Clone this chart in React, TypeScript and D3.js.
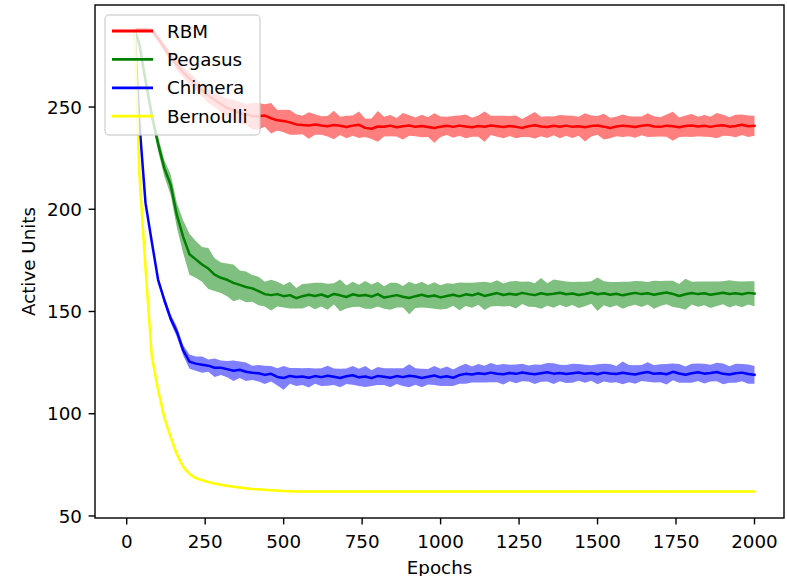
import React from "react";
import * as d3 from "d3";

const EPOCHS: number[] = [25, ...d3.range(40, 2001, 20)];

const SERIES_NAMES = ["RBM", "Pegasus", "Chimera", "Bernoulli"];
const SERIES_COLORS = ["#ff0000", "#008000", "#0000ff", "#ffff00"];

const X_TICKS = [0, 250, 500, 750, 1000, 1250, 1500, 1750, 2000];
const Y_TICKS = [50, 100, 150, 200, 250];

const RBM_MEAN = [
  288, 288, 288, 287.5, 283.5, 279, 274.5, 270.5, 267, 264,
  261, 258, 255.5, 253.5, 251.5, 249.5, 248.5, 247, 246.5, 245.5,
  245.5, 245.8, 244.5, 243.5, 243.2, 242.5, 241.5, 241.2, 241, 241.5,
  241, 240.6, 241.2, 240.8, 240.2, 240.9, 241.3, 239.8, 239.4, 240.5,
  240.4, 240.9, 240.1, 240.6, 241, 240.3, 240.7, 240.2, 239.7, 240.4,
  240.8, 240.3, 240.9, 240.5, 240.1, 240.7, 240.4, 241, 240.6, 240.2,
  240.7, 240.3, 239.8, 240.6, 241.1, 240.5, 240.2, 240.8, 240.4, 240.9,
  240.3, 240.6, 240.1, 240.7, 241, 240.4, 239.7, 240.5, 240.9, 240.6,
  240.2, 240.8, 241.2, 240.5, 240.3, 240.9, 240.6, 240.1, 240.7, 241,
  240.5, 240.8, 240.3, 240.9, 241.1, 240.4, 240.7, 241.3, 240.6, 240.8,
];
const RBM_SPREAD = [
  0, 0.5, 0.8, 1, 1.5, 2, 2, 2.5, 2.5, 3,
  3, 3, 3.5, 3.5, 4, 4.5, 5, 5.5, 5, 6.5,
  6.5, 5.5, 7.5, 5, 5.5, 6, 5, 4.5, 6.5, 5,
  4.5, 5, 7, 4.5, 5.5, 5, 6.5, 4.5, 5, 7.5,
  4.8, 5.2, 4.5, 6.5, 5, 4.6, 5.5, 4.8, 7.2, 5,
  4.5, 5.3, 4.9, 5.8, 4.6, 5.2, 7.4, 4.7, 5.1, 5.5,
  4.9, 5.6, 4.4, 5.2, 6.5, 4.8, 5.3, 4.6, 5.7, 5,
  5.4, 4.7, 6.9, 5.1, 4.6, 6.3, 5, 4.8, 5.5, 4.9,
  5.2, 4.6, 5.8, 5, 4.7, 5.4, 7.1, 4.8, 5.2, 5.6,
  4.8, 5.3, 4.9, 6.2, 5.1, 4.6, 5.5, 5, 5.3, 4.9,
];

const PEGASUS_MEAN = [
  288, 281, 263, 246, 232, 220, 212, 197, 186.5, 178,
  175.5, 173, 171, 168, 166.5, 165.5, 164, 163, 162, 161.3,
  160, 158.5, 158, 158.5, 157.5, 158, 156.5, 157.5, 158.2, 157.6,
  158.3, 157.2, 158.6, 157.9, 157.1, 158.4, 157.7, 158.1, 157.3, 158.5,
  156.8, 157.4, 158, 157.2, 156.6, 157.5, 158.2, 157.3, 157.8, 156.9,
  157.6, 158.2, 157.4, 158.4, 157.9, 158.8, 157.6, 158.3, 159, 158.1,
  158.7, 158.2, 159.1, 158.5, 158, 158.9, 158.3, 158.7, 159.2, 158.4,
  158.8, 158.1, 158.6, 159.3, 158.4, 158.9, 158.2, 158.7, 157.9, 158.6,
  159.1, 158.5, 158.9, 158.2, 158.8, 159.3, 158.6, 157.6, 158.4, 159,
  158.5, 158.9, 158.2, 158.7, 159.2, 158.6, 158.9, 158.4, 159.1, 158.7,
];
const PEGASUS_SPREAD = [
  0, 1.5, 2.5, 3, 3.5, 4, 5, 6, 8, 10,
  9, 8.5, 10, 8, 7.5, 8, 9, 7, 7.5, 6.5,
  7, 6, 7.5, 6, 5.5, 6.5, 5, 6, 5.5, 6.5,
  5.8, 6.4, 5.2, 7.8, 5.6, 6.2, 5.4, 6.8, 5.9, 6.1,
  5.5, 6.6, 6, 5.3, 7.9, 5.8, 6.3, 5.6, 6.5, 5.9,
  6.2, 5.4, 6.8, 5.7, 6.1, 5.5, 6.9, 5.8, 6.3, 5.6,
  6, 6.7, 5.4, 6.2, 5.8, 7.5, 5.5, 6.9, 5.9, 6.3,
  5.6, 6.4, 6, 5.5, 8.2, 5.9, 6.2, 5.7, 6.6, 6,
  5.8, 6.3, 5.5, 6.8, 6.1, 5.7, 6.4, 5.9, 7.6, 5.6,
  6.2, 5.8, 6.5, 6, 5.6, 6.7, 5.9, 6.3, 5.7, 6.1,
];

const CHIMERA_MEAN = [
  288, 243, 203, 184, 165.5, 155.5, 146.5, 140, 131, 125.5,
  124.5, 124, 123.5, 122.5, 122.5, 121.8, 121, 121.5, 120.5, 120,
  119.8, 119, 119.5, 118, 117.5, 118.5, 118, 118.2, 117.6, 118.4,
  117.9, 118.6, 118.1, 117.5, 118.3, 118.8, 117.8, 118.2, 117.4, 118.5,
  118.1, 117.6, 118.4, 117.9, 118.6, 118.2, 117.5, 118.1, 118.7, 117.8,
  118.3, 117.6, 118.9, 119.5, 119.2, 119.8, 119.4, 120.1, 119.6, 119.3,
  119.9, 119.5, 120.2, 119.7, 119.3, 119.8, 120.3, 119.6, 119.9, 119.4,
  119.8, 120.2, 119.5, 119.9, 119.3, 120.1, 119.7, 119.4, 120, 119.6,
  119.2, 119.9, 120.4, 119.5, 119.8, 119.3, 120.5, 119.7, 119.1, 119.8,
  120.3, 119.6, 119.9, 120.4, 119.5, 119.2, 119.8, 120.1, 119.4, 119,
];
const CHIMERA_SPREAD = [
  0, 0.5, 1, 1, 1.5, 2, 2, 2.5, 2.5, 3.5,
  3.5, 4, 3, 4.5, 3.5, 4, 5, 4, 4.5, 3.5,
  4, 4.5, 3.8, 4.2, 5.8, 3.9, 4.4, 4.1, 4.8, 3.7,
  4.3, 4.9, 4, 4.5, 3.8, 4.6, 4.2, 5.1, 3.9, 4.4,
  4.1, 4.7, 3.9, 4.4, 5.6, 4, 4.5, 3.8, 4.6, 4.2,
  4.8, 4, 4.3, 4.9, 3.9, 4.5, 4.1, 4.7, 4.2, 5,
  4, 4.6, 4.3, 3.9, 4.8, 4.2, 4.5, 5.1, 4, 4.4,
  4.7, 4.1, 4.4, 3.8, 4.9, 4.3, 4.6, 4, 5.6, 4.2,
  4.5, 3.9, 4.8, 4.2, 4.4, 5, 4.1, 4.6, 4, 4.7,
  4.3, 4.8, 4.1, 4.5, 5.1, 4, 4.6, 4.2, 4.7, 4.4,
];

const BERNOULLI_MEAN = [
  288, 218, 171, 128, 111.6, 98, 88.5, 80, 74, 70.5,
  68.5, 67.5, 66.6, 65.9, 65.3, 64.8, 64.3, 63.9, 63.5, 63.2,
  63, 62.8, 62.6, 62.4, 62.2, 62.1, 62, 61.9, 61.9, 62,
  61.9, 62, 61.9, 61.9, 62, 61.9, 62, 62, 61.9, 61.9,
  62, 61.9, 61.9, 62, 61.9, 62, 61.9, 61.9, 62, 61.9,
  61.9, 62, 61.9, 62, 61.9, 61.9, 62, 61.9, 62, 61.9,
  62, 61.9, 61.9, 62, 61.9, 62, 61.9, 61.9, 62, 61.9,
  61.9, 62, 61.9, 61.9, 62, 61.9, 62, 61.9, 61.9, 62,
  61.9, 61.9, 62, 61.9, 62, 61.9, 61.9, 62, 61.9, 62,
  61.9, 62, 61.9, 61.9, 62, 61.9, 61.9, 62, 61.9, 62,
];
const BERNOULLI_SPREAD = [
  0, 0.5, 0.5, 0.6, 0.6, 0.6, 0.5, 0.6, 0.5, 0.6,
  0.5, 0.6, 0.5, 0.5, 0.6, 0.5, 0.5, 0.6, 0.5, 0.5,
  0.5, 0.4, 0.5, 0.5, 0.4, 0.5, 0.4, 0.4, 0.5, 0.4,
  0.4, 0.5, 0.4, 0.4, 0.5, 0.4, 0.4, 0.5, 0.4, 0.4,
  0.5, 0.4, 0.4, 0.5, 0.4, 0.4, 0.5, 0.4, 0.4, 0.5,
  0.4, 0.4, 0.5, 0.4, 0.4, 0.5, 0.4, 0.4, 0.5, 0.4,
  0.4, 0.5, 0.4, 0.4, 0.5, 0.4, 0.4, 0.5, 0.4, 0.4,
  0.5, 0.4, 0.4, 0.5, 0.4, 0.4, 0.5, 0.4, 0.4, 0.5,
  0.4, 0.4, 0.5, 0.4, 0.4, 0.5, 0.4, 0.4, 0.5, 0.4,
  0.4, 0.5, 0.4, 0.4, 0.5, 0.4, 0.4, 0.5, 0.4, 0.4,
];

const MEANS = [RBM_MEAN, PEGASUS_MEAN, CHIMERA_MEAN, BERNOULLI_MEAN];
const SPREADS = [RBM_SPREAD, PEGASUS_SPREAD, CHIMERA_SPREAD, BERNOULLI_SPREAD];

const W = 787;
const H = 576;
const FRAME = { left: 95, right: 784, top: 5, bottom: 518 };
const FONT = "'DejaVu Sans', sans-serif";
const FS = 18.3;

export default function App() {
  const x = d3.scaleLinear().domain([-101, 2094]).range([FRAME.left, FRAME.right]);
  const y = d3.scaleLinear().domain([49, 299.9]).range([FRAME.bottom, FRAME.top]);

  type P = { e: number; m: number; s: number };
  const line = d3
    .line<P>()
    .x((d) => x(d.e))
    .y((d) => y(d.m));
  const area = d3
    .area<P>()
    .x((d) => x(d.e))
    .y0((d) => y(d.m - d.s))
    .y1((d) => y(d.m + d.s));

  const series = SERIES_NAMES.map((name, i) => ({
    name,
    color: SERIES_COLORS[i],
    pts: EPOCHS.map((e, j) => ({ e, m: MEANS[i][j], s: SPREADS[i][j] })),
  }));

  const legend = { x: 105, y: 15, w: 155, h: 120, rowY0: 31, rowDy: 28.4 };

  return (
    <svg
      width={W}
      height={H}
      style={{ position: "absolute", left: 0, top: 0, background: "#fff" }}
      fontFamily={FONT}
    >
      <rect x={0} y={0} width={W} height={H} fill="#fff" />
      <defs>
        <clipPath id="plot-clip">
          <rect
            x={FRAME.left}
            y={FRAME.top}
            width={FRAME.right - FRAME.left}
            height={FRAME.bottom - FRAME.top}
          />
        </clipPath>
      </defs>
      <g clipPath="url(#plot-clip)">
        {series.map((s) => (
          <g key={s.name}>
            <path d={area(s.pts) || ""} fill={s.color} fillOpacity={0.5} stroke="none" />
            <path
              d={line(s.pts) || ""}
              fill="none"
              stroke={s.color}
              strokeWidth={2.5}
              strokeLinejoin="round"
              strokeLinecap="square"
            />
          </g>
        ))}
      </g>
      <rect
        x={FRAME.left}
        y={FRAME.top}
        width={FRAME.right - FRAME.left}
        height={FRAME.bottom - FRAME.top}
        fill="none"
        stroke="#000"
        strokeWidth={1.4}
      />
      {X_TICKS.map((t) => (
        <g key={"x" + t}>
          <line x1={x(t)} x2={x(t)} y1={FRAME.bottom} y2={FRAME.bottom + 6.4} stroke="#000" strokeWidth={1.4} />
          <text x={x(t)} y={548} textAnchor="middle" fontSize={FS} fill="#000">
            {t}
          </text>
        </g>
      ))}
      {Y_TICKS.map((t) => (
        <g key={"y" + t}>
          <line x1={FRAME.left - 6.4} x2={FRAME.left} y1={y(t)} y2={y(t)} stroke="#000" strokeWidth={1.4} />
          <text x={82} y={y(t) + 6.6} textAnchor="end" fontSize={FS} fill="#000">
            {t}
          </text>
        </g>
      ))}
      <text x={(FRAME.left + FRAME.right) / 2} y={573.5} textAnchor="middle" fontSize={FS} fill="#000">
        Epochs
      </text>
      <text
        transform={`translate(34.5, ${(FRAME.top + FRAME.bottom) / 2}) rotate(-90)`}
        textAnchor="middle"
        fontSize={FS}
        fill="#000"
      >
        Active Units
      </text>
      <rect
        x={legend.x}
        y={legend.y}
        width={legend.w}
        height={legend.h}
        rx={4}
        ry={4}
        fill="#fff"
        fillOpacity={0.8}
        stroke="#cccccc"
        strokeOpacity={0.8}
        strokeWidth={1.4}
      />
      {series.map((s, i) => {
        const ry = legend.rowY0 + i * legend.rowDy;
        return (
          <g key={"lg" + s.name}>
            <line x1={112} x2={153} y1={ry} y2={ry} stroke={s.color} strokeWidth={2.8} />
            <text x={167} y={ry + 6.6} fontSize={FS} fill="#000">
              {s.name}
            </text>
          </g>
        );
      })}
    </svg>
  );
}
